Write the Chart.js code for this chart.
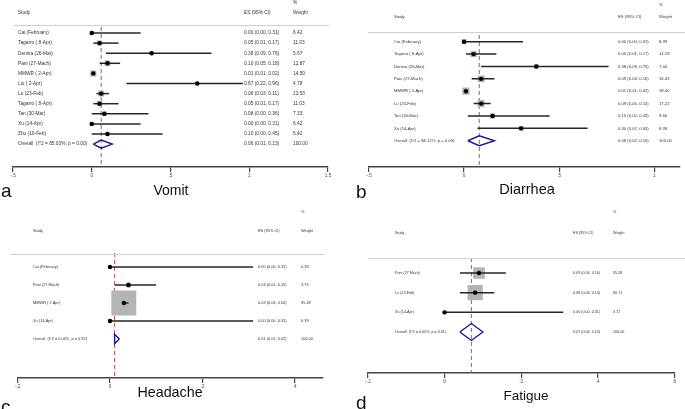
<!DOCTYPE html>
<html>
<head>
<meta charset="utf-8">
<title>Forest plots</title>
<script src="https://cdn.jsdelivr.net/npm/chart.js@4.4.0/dist/chart.umd.min.js"></script>
<style>
  body { margin: 0; background: #fff; width: 685px; height: 409px; overflow: hidden; position: relative; font-family: "Liberation Sans", Arial, sans-serif; }
  canvas { position: absolute; }
  .title { position: absolute; line-height: 1; color: #111; white-space: nowrap; transform: translateX(-50%); }
  .tag { position: absolute; line-height: 1; color: #111; font-size: 19px; }
</style>
</head>
<body>
<canvas id="vomit"></canvas>
<canvas id="diarrhea"></canvas>
<canvas id="headache"></canvas>
<canvas id="fatigue"></canvas>

<div class="tag" style="left:1px; top:181px;">a</div>
<div class="title" style="left:171px; top:183px; font-size:14px;">Vomit</div>
<div class="tag" style="left:356px; top:182px;">b</div>
<div class="title" style="left:527px; top:182px; font-size:14.5px;">Diarrhea</div>
<div class="tag" style="left:1px; top:397px;">c</div>
<div class="title" style="left:170px; top:385px; font-size:14.3px;">Headache</div>
<div class="tag" style="left:356px; top:393px;">d</div>
<div class="title" style="left:526px; top:389px; font-size:13.5px;">Fatigue</div>

<script>
// Forest plots: vomit, diarrhea, headache, fatigue
// last row of every panel is the pooled estimate

// Vomit
const vomitStudies = ["Cai (February)", "Tagarro ( 8-Apr)", "Denina (26-Mar)", "Pani (27-Mach)", "MMWR ( 2-Apr)", "Liu ( 2-Apr)", "Lu (23-Feb)", "Tagarro ( 8-Apr)", "Tan (30-Mar)", "Xu (14-Apr)", "Zhu (10-Feb)", "Overall  (I^2 = 85.03%, p = 0.00)"]
const vomitEs = [0.00, 0.05, 0.38, 0.10, 0.01, 0.67, 0.06, 0.05, 0.08, 0.00, 0.10, 0.06]
const vomitLow = [0.00, 0.01, 0.09, 0.05, 0.01, 0.22, 0.03, 0.01, 0.00, 0.00, 0.00, 0.01]
const vomitHigh = [0.31, 0.17, 0.76, 0.18, 0.02, 0.96, 0.11, 0.17, 0.36, 0.31, 0.45, 0.13]
const vomitWeight = [6.42, 11.03, 5.67, 12.87, 14.50, 4.78, 13.53, 11.03, 7.33, 6.42, 6.42, 100.00]
const vomitTicks = [-0.5, 0, 0.5, 1, 1.5]
const vomitTickLabels = ["-.5", "0", ".5", "1", "1.5"]

// Diarrhea
const diarrheaStudies = ["Cai (February)", "Tagarro ( 8-Apr)", "Denina (26-Mar)", "Pani (27-Mach)", "MMWR ( 2-Apr)", "Lu (23-Feb)", "Tan (30-Mar)", "Xu (14-Apr)", "Overall  (I^2 = 88.12%, p = 0.00)"]
const diarrheaEs = [0.00, 0.05, 0.38, 0.09, 0.01, 0.09, 0.15, 0.30, 0.08]
const diarrheaLow = [0.00, 0.01, 0.09, 0.04, 0.01, 0.05, 0.02, 0.07, 0.02]
const diarrheaHigh = [0.31, 0.17, 0.76, 0.16, 0.02, 0.14, 0.45, 0.65, 0.16]
const diarrheaWeight = [8.39, 14.18, 7.44, 16.43, 18.40, 17.22, 9.56, 8.39, 100.00]
const diarrheaTicks = [-0.5, 0, 0.5, 1]
const diarrheaTickLabels = ["-.5", "0", ".5", "1"]

// Headache
const headacheStudies = ["Cai (February)", "Pani (27 Mach)", "MMWR ( 2 Apr)", "Xu (14-Apr)", "Overall  (I^2 = 0.00%, p = 0.92)"]
const headacheEs = [0.00, 0.04, 0.03, 0.00, 0.01]
const headacheLow = [0.00, 0.01, 0.03, 0.00, 0.01]
const headacheHigh = [0.31, 0.10, 0.04, 0.31, 0.02]
const headacheWeight = [0.39, 3.73, 95.49, 0.39, 100.00]
const headacheTicks = [-0.2, 0, 0.2, 0.4]
const headacheTickLabels = ["-.2", "0", ".2", ".4"]

// Fatigue
const fatigueStudies = ["Pani (27 Mach)", "Lu (23-Feb)", "Xu (14-Apr)", "Overall  (I^2 = 0.00%, p = 0.61)"]
const fatigueEs = [0.09, 0.08, 0.00, 0.07]
const fatigueLow = [0.04, 0.04, 0.00, 0.04]
const fatigueHigh = [0.16, 0.13, 0.31, 0.10]
const fatigueWeight = [35.58, 60.71, 3.72, 100.00]
const fatigueTicks = [-0.2, 0, 0.2, 0.4, 0.6]
const fatigueTickLabels = ["-.2", "0", ".2", ".4", ".6"]

// panel geometry (canvas coords)
const layouts = {
  vomit: { left: 0, top: 0, width: 340, height: 187, plotLeft: 13, plotRight: 328, plotTop: 27, firstRow: 33, rowStep: 10.1,
    xMin: -0.5, xMax: 1.5, font: 4.8, boxScale: 1.6, diamondHalf: 0.4,
    studyX: 18, esX: 244, weightX: 293, headY: 13, pctY: 3, lineY: 25, lineX0: 14, lineX1: 329 },
  diarrhea: { left: 340, top: 0, width: 345, height: 187, plotLeft: 29, plotRight: 344, plotTop: 35, firstRow: 41.7, rowStep: 12.38,
    xMin: -0.5, xMax: 1.135, font: 4.2, boxScale: 1.7, diamondHalf: 0.4,
    studyX: 54, esX: 278, weightX: 319, headY: 17, pctY: 5, lineY: 32, lineX0: 28, lineX1: 345 },
  headache: { left: 0, top: 205, width: 340, height: 193, plotLeft: 10.5, plotRight: 325, plotTop: 48, firstRow: 62, rowStep: 18,
    xMin: -0.2, xMax: 0.46, font: 3.9, boxScale: 2.55, diamondHalf: 0.26,
    studyX: 33, esX: 258, weightX: 301, headY: 26, pctY: 7, lineY: 49, lineX0: 10, lineX1: 325 },
  fatigue: { left: 340, top: 205, width: 345, height: 188, plotLeft: 28, plotRight: 343, plotTop: 53, firstRow: 68, rowStep: 19.67,
    xMin: -0.2, xMax: 0.6, font: 3.7, boxScale: 1.95, diamondHalf: 0.43,
    studyX: 55, esX: 233, weightX: 273, headY: 28, pctY: 7, lineY: 53, lineX0: 28, lineX1: 345 },
}

const AXIS_HEIGHT = 20
const FONT = '"Liberation Sans", Arial, sans-serif'

function buildForest(id, rows, ticks, tickLabels, lay) {
  const canvas = document.getElementById(id)
  canvas.width = lay.width
  canvas.height = lay.height
  canvas.style.left = lay.left + "px"
  canvas.style.top = lay.top + "px"

  const plotBottom = lay.height - AXIS_HEIGHT
  const yMin = (lay.plotTop - lay.firstRow) / lay.rowStep
  const yMax = (plotBottom - lay.firstRow) / lay.rowStep

  const n = rows.studies.length - 1 // index of overall row
  const idx = rows.es.slice(0, n).map((_, i) => i)

  const datasets = []

  // study estimates
  datasets.push({
    data: idx.map((i) => ({ x: rows.es[i], y: i })),
    pointStyle: "circle",
    pointRadius: 2.2,
    backgroundColor: "#000",
    borderWidth: 0,
    order: 0,
  })

  // pooled diamond
  const h = lay.diamondHalf
  datasets.push({
    data: [
      { x: rows.low[n], y: n },
      { x: rows.es[n], y: n - h },
      { x: rows.high[n], y: n },
      { x: rows.es[n], y: n + h },
      { x: rows.low[n], y: n },
    ],
    showLine: true,
    borderColor: "#1c1c84",
    borderWidth: 1.4,
    pointRadius: 0,
    tension: 0,
    order: 1,
  })

  // confidence intervals
  idx.forEach((i) => {
    datasets.push({
      data: [{ x: rows.low[i], y: i }, { x: rows.high[i], y: i }],
      showLine: true,
      borderColor: "#262626",
      borderWidth: 1.5,
      pointRadius: 0,
      order: 2,
    })
  })

  // weight boxes
  datasets.push({
    data: idx.map((i) => ({ x: rows.es[i], y: i })),
    pointStyle: "rect",
    pointRadius: idx.map((i) => (lay.boxScale * Math.sqrt(rows.weight[i])) / Math.SQRT2),
    backgroundColor: "#b4b4b4",
    borderWidth: 0,
    order: 3,
  })

  // pooled reference line
  datasets.push({
    data: [{ x: rows.es[n], y: yMin }, { x: rows.es[n], y: yMax }],
    showLine: true,
    borderColor: "#b9505a",
    borderWidth: 1,
    borderDash: [4, 3],
    pointRadius: 0,
    order: 4,
  })

  const textPlugin = {
    id: "forestText",
    afterDraw(chart) {
      const { ctx } = chart
      const y = chart.scales.y
      ctx.save()
      ctx.fillStyle = "#333"
      ctx.font = `${lay.font}px ${FONT}`
      ctx.textBaseline = "middle"
      ctx.textAlign = "left"
      ctx.fillText("%", lay.weightX, lay.pctY)
      ctx.fillText("Study", lay.studyX, lay.headY)
      ctx.fillText("ES (95% CI)", lay.esX, lay.headY)
      ctx.fillText("Weight", lay.weightX, lay.headY)

      ctx.strokeStyle = "#cfcfcf"
      ctx.lineWidth = 1
      ctx.beginPath()
      ctx.moveTo(lay.lineX0, lay.lineY + 0.5)
      ctx.lineTo(lay.lineX1, lay.lineY + 0.5)
      ctx.stroke()

      rows.studies.forEach((name, i) => {
        const py = y.getPixelForValue(i)
        ctx.fillText(name, lay.studyX, py)
        ctx.fillText(`${rows.es[i].toFixed(2)} (${rows.low[i].toFixed(2)}, ${rows.high[i].toFixed(2)})`, lay.esX, py)
        ctx.fillText(rows.weight[i].toFixed(2), lay.weightX, py)
      })
      ctx.restore()
    },
  }

  return new Chart(canvas, {
    type: "scatter",
    data: { datasets },
    options: {
      responsive: false,
      animation: false,
      layout: {
        padding: { left: lay.plotLeft, right: lay.width - lay.plotRight, top: lay.plotTop, bottom: 0 },
      },
      plugins: {
        legend: { display: false },
        tooltip: { enabled: false },
      },
      scales: {
        x: {
          type: "linear",
          min: lay.xMin,
          max: lay.xMax,
          afterFit: (scale) => {
            scale.height = AXIS_HEIGHT
          },
          afterBuildTicks: (scale) => {
            scale.ticks = ticks.map((v) => ({ value: v }))
          },
          border: { display: true, color: "#444", width: 1.5 },
          grid: { drawOnChartArea: false, drawTicks: true, tickLength: 5, color: "#444", lineWidth: 1.2 },
          ticks: {
            autoSkip: false,
            maxRotation: 0,
            padding: 1,
            color: "#444",
            font: { size: 4.6, family: FONT },
            callback: (value, index) => tickLabels[index],
          },
        },
        y: {
          type: "linear",
          display: false,
          reverse: true,
          min: yMin,
          max: yMax,
        },
      },
    },
    plugins: [textPlugin],
  })
}

buildForest("vomit", { studies: vomitStudies, es: vomitEs, low: vomitLow, high: vomitHigh, weight: vomitWeight }, vomitTicks, vomitTickLabels, layouts.vomit)
buildForest("diarrhea", { studies: diarrheaStudies, es: diarrheaEs, low: diarrheaLow, high: diarrheaHigh, weight: diarrheaWeight }, diarrheaTicks, diarrheaTickLabels, layouts.diarrhea)
buildForest("headache", { studies: headacheStudies, es: headacheEs, low: headacheLow, high: headacheHigh, weight: headacheWeight }, headacheTicks, headacheTickLabels, layouts.headache)
buildForest("fatigue", { studies: fatigueStudies, es: fatigueEs, low: fatigueLow, high: fatigueHigh, weight: fatigueWeight }, fatigueTicks, fatigueTickLabels, layouts.fatigue)
</script>
</body>
</html>
